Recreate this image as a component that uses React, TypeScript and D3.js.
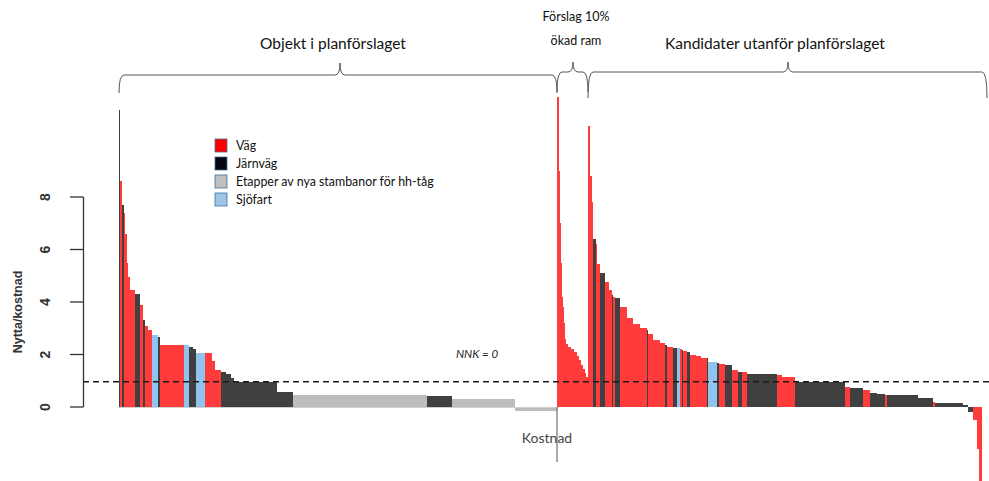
import { scaleLinear, scaleOrdinal } from "d3"

// Transportslag: V = väg, J = järnväg, E = etapper av nya stambanor, S = sjöfart
const typeKeys = ["V", "J", "E", "S"]
const typeLabels = ["Väg", "Järnväg", "Etapper av nya stambanor för hh-tåg", "Sjöfart"]
const barColors = ["#ff3b3b", "#404040", "#bdbdbd", "#8ec4ee"]
const legendColors = ["#ff0000", "#050510", "#bfbfbf", "#9dc3e6"]

const groupLabels = ["Objekt i planförslaget", "Förslag 10%|ökad ram", "Kandidater utanför planförslaget"]
const yTicks = [0, 2, 4, 6, 8]

// Objekt i planförslaget
const planTypes = ["J","V","J","V","V","V","V","V","J","V","J","V","V","S","J","V","S","J","J","S","V","V","V","J","J","J","J","J","E","J","E","E"]
const planCost = [1.5,1.5,2.5,1,1.5,1.5,2,5,4.5,3.5,2,3,3.5,6.5,2,23.5,5,4,3.5,9,7,3,6,5,5,3,43,16,134,25,63,42]
const planRatio = [11.3,8.6,7.7,7.4,6.6,5.5,4.95,4.45,4.3,3.9,3.3,3.1,2.95,2.75,2.65,2.36,2.36,2.28,2.2,2.07,2.05,1.75,1.4,1.33,1.25,1.1,0.95,0.57,0.46,0.42,0.3,-0.15]

// Förslag 10% ökad ram
const extraTypes = ["V","V","V","V","V","V","V","V","V","V","V","V","V","V","V","V","V","V","V"]
const extraCost = [1.5,1.5,0.8,0.8,0.8,0.8,1,1,1.2,2,3,3,2.5,2,2,2,2,1.5,1.6]
const extraRatio = [11.8,9.0,7.0,5.5,4.6,4.2,3.8,3.2,2.6,2.4,2.3,2.2,2.1,1.95,1.8,1.6,1.45,1.3,1.15]

// Kandidater utanför planförslaget
const candTypes = ["V","V","V","J","V","V","J","V","V","J","V","J","V","V","V","V","J","V","V","V","J","V","J","S","V","J","V","J","V","V","V","J","S",
  "J","V","J","V","J","V","J","V","V","J","V","J","V","J","J","V","J","J","V","J","J","J","V","V","V"]
const candCost = [2,1.5,1.5,2.5,1.5,3,5,3.5,3.2,1.6,1.7,5,6.7,6.3,7,6.5,1.5,5,7,5,1.5,6.5,4,3,1.7,1.6,3.4,3.3,6,5,5.7,1.6,8.7,
  2,6,7,6,4,5,30,5,13,50,5,13,7,7,8,2,31,15,2,28,5,5,4,1.5,3.5]
const candRatio = [10.7,8.8,7.8,6.4,6.2,5.45,5.1,4.75,4.45,4.25,4.2,4.15,3.8,3.4,3.15,3.0,2.95,2.8,2.55,2.45,2.38,2.3,2.25,2.25,2.2,2.18,2.12,2.08,2.0,1.95,1.88,1.85,1.72,
  1.68,1.65,1.6,1.42,1.35,1.33,1.26,1.22,1.14,0.95,0.76,0.72,0.65,0.53,0.49,0.47,0.46,0.34,0.2,0.15,0.08,-0.2,-0.5,-1.6,-3.5]

const groups = [
  { types: planTypes, cost: planCost, ratio: planRatio },
  { types: extraTypes, cost: extraCost, ratio: extraRatio },
  { types: candTypes, cost: candCost, ratio: candRatio },
]

type Bar = { type: string; x0: number; x1: number; ratio: number }

export default function App() {
  const W = 989
  const H = 481

  // cumulative cost along x
  let acc = 0
  const bars: Bar[] = []
  const bounds: number[] = [0]
  groups.forEach((g) => {
    g.cost.forEach((c, i) => {
      bars.push({ type: g.types[i], x0: acc, x1: acc + c, ratio: g.ratio[i] })
      acc += c
    })
    bounds.push(acc)
  })

  const x = scaleLinear().domain([0, acc]).range([118.5, 982])
  const y = scaleLinear().domain([0, 8]).range([407, 197])
  const color = scaleOrdinal<string, string>().domain(typeKeys).range(barColors)

  const brace = (a: number, b: number, yl: number, yEnd: number, tip: number, mid?: number) => {
    const m = mid ?? (a + b) / 2
    const r = 5
    return (
      `M${a},${yEnd} Q${a},${yl} ${a + r},${yl} L${m - r},${yl} Q${m},${yl} ${m},${tip} ` +
      `Q${m},${yl} ${m + r},${yl} L${b - r},${yl} Q${b},${yl} ${b},${yEnd}`
    )
  }

  const braces = [
    { a: 119, b: x(bounds[1]), yl: 75, yEnd: 93, tip: 63, mid: 340, tx: 333, ty: 49, size: 15.5 },
    { a: x(bounds[1]), b: x(bounds[2]), yl: 72, yEnd: 92, tip: 62, mid: 573, tx: 576, ty: 21, size: 12.5 },
    { a: x(bounds[2]), b: 987, yl: 72, yEnd: 98, tip: 62, mid: 788, tx: 775, ty: 49, size: 15.5 },
  ]

  return (
    <svg
      width={W}
      height={H}
      style={{ position: "absolute", left: 0, top: 0, background: "#fff" }}
      fontFamily="Lato, 'Open Sans', sans-serif"
    >
      {/* Bars */}
      {bars.map((d, i) => (
        <rect
          key={i}
          x={x(d.x0)}
          width={Math.max(0.6, x(d.x1) - x(d.x0))}
          y={d.ratio >= 0 ? y(d.ratio) : y(0)}
          height={Math.abs(y(d.ratio) - y(0))}
          fill={color(d.type)}
          shapeRendering="crispEdges"
        />
      ))}

      {/* Baseline under the plan bars */}
      <line x1={x(bounds[0])} x2={x(bounds[1])} y1={y(0) + 0.5} y2={y(0) + 0.5} stroke="#d0d0d0" />

      {/* Vertical divider at end of plan */}
      <line x1={x(bounds[1])} x2={x(bounds[1])} y1={y(0)} y2={462} stroke="#555" strokeWidth={1} />
      <text x={547} y={443} textAnchor="middle" fontSize={14} fill="#444">
        Kostnad
      </text>

      {/* NNK = 0 line */}
      <line x1={83} x2={W} y1={y(1) + 1} y2={y(1) + 1} stroke="#1a1a1a" strokeWidth={1.4} strokeDasharray="6,4" />
      <text x={477} y={358} textAnchor="middle" fontSize={11.5} fontStyle="italic" fill="#222">
        NNK = 0
      </text>

      {/* Y axis */}
      <g fontFamily="Liberation Sans, Arial, sans-serif" fill="#333">
        <line x1={83.5} x2={83.5} y1={y(8)} y2={y(0)} stroke="#333" strokeWidth={1.3} />
        {yTicks.map((t) => (
          <g key={t}>
            <line x1={70} x2={83.5} y1={y(t)} y2={y(t)} stroke="#333" strokeWidth={1.3} />
            <text
              transform={`translate(50,${y(t)}) rotate(-90)`}
              textAnchor="middle"
              fontSize={14}
              fontWeight="bold"
            >
              {t}
            </text>
          </g>
        ))}
        <text
          transform={`translate(22,${(y(8) + y(0)) / 2 + 10}) rotate(-90)`}
          textAnchor="middle"
          fontSize={12.5}
          fontWeight="bold"
        >
          Nytta/kostnad
        </text>
      </g>

      {/* Legend */}
      {typeLabels.map((lab, i) => (
        <g key={lab} transform={`translate(215,${139 + i * 18})`}>
          <rect width={12} height={13} fill={legendColors[i]} stroke="#41719c" strokeWidth={0.8} />
          <text x={21} y={11} fontSize={12.4} fill="#111">
            {lab}
          </text>
        </g>
      ))}

      {/* Group braces */}
      {braces.map((b, i) => (
        <g key={i}>
          <path d={brace(b.a, b.b, b.yl, b.yEnd, b.tip, b.mid)} fill="none" stroke="#555" strokeWidth={1} />
          {groupLabels[i].split("|").map((s, j) => (
            <text key={j} x={b.tx} y={b.ty + j * 24} textAnchor="middle" fontSize={b.size} fill="#111">
              {s}
            </text>
          ))}
        </g>
      ))}
    </svg>
  )
}
